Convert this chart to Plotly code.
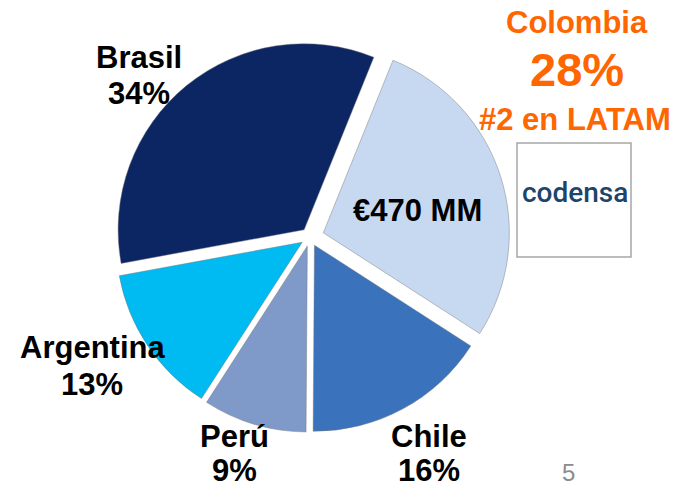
import plotly.graph_objects as go

countries = ["Colombia", "Chile", "Perú", "Argentina", "Brasil"]
shares = [28, 16, 9, 13, 34]
colors = ["#C6D9F1", "#3A72BC", "#7F9AC9", "#00BAF2", "#0C2563"]
pulls = [0.075, 0.05, 0.05, 0.05, 0.05]

# label centres (name line y, percent line y)
label_pos = {
    "Brasil": (139, 57, 93),
    "Argentina": (92, 347, 384),
    "Perú": (234, 436, 470),
    "Chile": (429, 436, 470),
}

W, H = 679, 487
FONT = "Liberation Sans, Arial, sans-serif"


def px(x, y):
    return x / W, 1 - y / H


fig = go.Figure()
fig.add_trace(go.Pie(
    labels=countries,
    values=shares,
    sort=False,
    direction="clockwise",
    rotation=22,
    pull=pulls,
    marker=dict(colors=colors, line=dict(color="rgba(120,120,120,0.45)", width=1)),
    textinfo="none",
    hoverinfo="skip",
    showlegend=False,
    domain=dict(x=[110 / W, 510 / W], y=[(H - 437) / H, (H - 37) / H]),
))

annotations = []


def add_text(x, y, text, size, color, bold=True, family=FONT, weight=None):
    ax, ay = px(x, y)
    font = dict(family=family, size=size, color=color)
    if weight is not None:
        font["weight"] = weight
    annotations.append(dict(
        x=ax, y=ay, xref="paper", yref="paper",
        text=f"<b>{text}</b>" if bold else text, showarrow=False,
        font=font, xanchor="center", yanchor="middle",
    ))


for name, v in zip(countries, shares):
    if name in label_pos:
        x, y1, y2 = label_pos[name]
        add_text(x, y1, name, 31, "#000000")
        add_text(x, y2, f"{v}%", 31, "#000000")

add_text(417, 210, "€470 MM", 31, "#000000")

col_share = shares[countries.index("Colombia")]
orange = "#FF6600"
add_text(577, 22, "Colombia", 31, orange)
add_text(577, 69, f"{col_share}%", 47, orange)
add_text(575, 119, "#2 en LATAM", 31, orange)
add_text(575, 192, "codensa", 28, "#1D4469", bold=False, family="Roboto, sans-serif", weight=500)
add_text(568, 472, "5", 24, "#8C8C8C", bold=False)

fig.update_layout(
    width=W, height=H,
    margin=dict(l=0, r=0, t=0, b=0),
    paper_bgcolor="white", plot_bgcolor="white",
    annotations=annotations,
    shapes=[dict(type="rect", xref="paper", yref="paper",
                 x0=517 / W, x1=631 / W, y0=1 - 257 / H, y1=1 - 143 / H,
                 line=dict(color="#A6A6A6", width=1.5), fillcolor="white", layer="below")],
)

fig.write_html("out.html", config={"displayModeBar": False},
               post_script="document.body.style.margin='0';")
